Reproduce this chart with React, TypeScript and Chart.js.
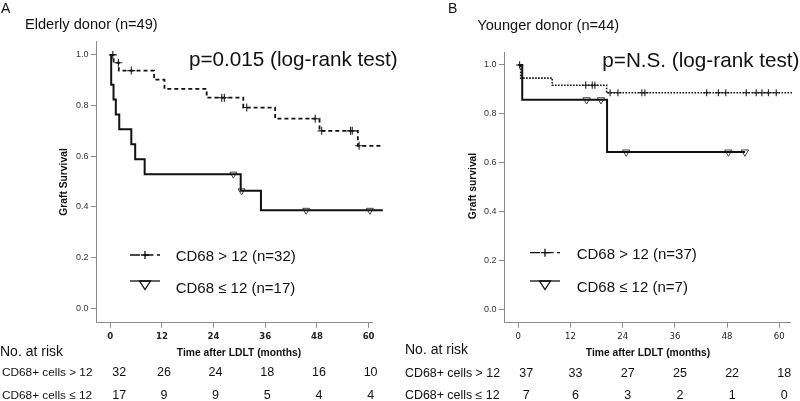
import React, { useEffect, useRef } from "react";
import { Chart, registerables } from "chart.js";

Chart.register(...registerables);

const FONT = "'Liberation Sans', Arial, Helvetica, sans-serif";
const NARROW = "'Liberation Sans Narrow', 'DejaVu Sans Condensed', 'Liberation Sans', sans-serif";

// ---------- shared ticks ----------
const monthTicks = [0, 12, 24, 36, 48, 60];
const survivalTicks = [0, 0.2, 0.4, 0.6, 0.8, 1.0];

// ---------- Panel A: Elderly donor ----------
const aHighEventMonths = [0, 0.8, 2.0, 10.2, 12.6, 22.4, 30.9, 38.3, 48.6, 57.5];
const aHighSurvival = [1, 0.969, 0.938, 0.902, 0.866, 0.831, 0.792, 0.748, 0.7, 0.641];
const aHighCensored = [0.6, 1.9, 4.9, 25.9, 26.5, 31.7, 47.6, 49.1, 55.8, 56.2, 57.8];
const aHighLastMonth = 62.8;

const aLowEventMonths = [0, 0.23, 0.77, 1.3, 2.1, 4.9, 5.8, 8.0, 30.3, 35.0];
const aLowSurvival = [1, 0.882, 0.824, 0.765, 0.706, 0.647, 0.588, 0.529, 0.463, 0.386];
const aLowCensored = [28.6, 30.5, 45.5, 60.3];
const aLowLastMonth = 63.3;

const aRiskHigh = [32, 26, 24, 18, 16, 10];
const aRiskLow = [17, 9, 9, 5, 4, 4];

// ---------- Panel B: Younger donor ----------
const bHighEventMonths = [0, 0.55, 7.8, 20.3];
const bHighSurvival = [1, 0.946, 0.917, 0.886];
const bHighCensored = [0.3, 15.5, 17.0, 17.6, 21.1, 22.9, 28.4, 29.1, 43.3, 46.0, 47.7, 52.4, 54.7, 56.0, 57.5, 59.3];
const bHighLastMonth = 62.9;

const bLowEventMonths = [0, 0.9, 20.4];
const bLowSurvival = [1, 0.857, 0.643];
const bLowCensored = [15.7, 19.0, 24.8, 48.3, 52.1];
const bLowLastMonth = 52.1;

const bRiskHigh = [37, 33, 27, 25, 22, 18];
const bRiskLow = [7, 6, 3, 2, 1, 0];

// ---------- helpers ----------
function stepPoints(times: number[], surv: number[], end: number) {
  const pts = [{ x: times[0], y: surv[0] }];
  for (let i = 1; i < times.length; i++) {
    pts.push({ x: times[i], y: surv[i - 1] });
    pts.push({ x: times[i], y: surv[i] });
  }
  pts.push({ x: end, y: surv[surv.length - 1] });
  return pts;
}
function survivalAt(times: number[], surv: number[], t: number) {
  let v = surv[0];
  for (let i = 0; i < times.length; i++) if (times[i] <= t) v = surv[i];
  return v;
}

type Panel = {
  letter: string;
  title: string;
  pText: string;
  yTitle: string;
  hiLabel: string;
  loLabel: string;
  hiTimes: number[]; hiSurv: number[]; hiCens: number[]; hiEnd: number;
  loTimes: number[]; loSurv: number[]; loCens: number[]; loEnd: number;
  riskHi: number[]; riskLo: number[];
  g: any;
};

const panels: Panel[] = [
  {
    letter: "A",
    title: "Elderly donor (n=49)",
    pText: "p=0.015 (log-rank test)",
    yTitle: "Graft Survival",
    hiLabel: "CD68 > 12 (n=32)",
    loLabel: "CD68 \u2264 12 (n=17)",
    hiTimes: aHighEventMonths, hiSurv: aHighSurvival, hiCens: aHighCensored, hiEnd: aHighLastMonth,
    loTimes: aLowEventMonths, loSurv: aLowSurvival, loCens: aLowCensored, loEnd: aLowLastMonth,
    riskHi: aRiskHigh, riskLo: aRiskLow,
    g: {
      axisX: 96, areaRight: 372.7, areaTop: 41, axisBottom: 322.7,
      xMin: -3.3, xMax: 60.95, yMin: -0.058, yMax: 1.055,
      hiDash: [4, 3], hiWidth: 1.8, loWidth: 2, crossR: 4, triR: 4,
      xTickFont: { family: NARROW, size: 9.5, weight: "bold" },
      letterX: 1, letterY: 13,
      titleX: 25, titleY: 29,
      pX: 189, pY: 66,
      legSymX: 130, legTextX: 175.7, leg1Y: 255, leg1Base: 261, leg2Y: 281, leg2Base: 292.7, legFont: 15,
      xTitleX: 239, xTitleY: 356,
      yTitleX: 64, yTitleY: 182,
      riskX: 0, riskHeadY: 356, riskRowX: 2, risk1Y: 376, risk2Y: 398.5, rowFont: 11.8,
      riskShift: 2, riskFirstShift: 9,
    },
  },
  {
    letter: "B",
    title: "Younger donor (n=44)",
    pText: "p=N.S. (log-rank test)",
    yTitle: "Graft survival",
    hiLabel: "CD68 > 12 (n=37)",
    loLabel: "CD68 \u2264 12 (n=7)",
    hiTimes: bHighEventMonths, hiSurv: bHighSurvival, hiCens: bHighCensored, hiEnd: bHighLastMonth,
    loTimes: bLowEventMonths, loSurv: bLowSurvival, loCens: bLowCensored, loEnd: bLowLastMonth,
    riskHi: bRiskHigh, riskLo: bRiskLow,
    g: {
      axisX: 104, areaRight: 390, areaTop: 52, axisBottom: 322.7,
      xMin: -3.29, xMax: 62.46, yMin: -0.056, yMax: 1.053,
      hiDash: [1.6, 1.4], hiWidth: 1.6, loWidth: 2, crossR: 3.6, triR: 4.2,
      xTickFont: { family: NARROW, size: 9.5, weight: "normal" },
      letterX: 48, letterY: 13,
      titleX: 77.3, titleY: 30,
      pX: 202.3, pY: 67,
      legSymX: 130, legTextX: 176.7, leg1Y: 252.7, leg1Base: 259.3, leg2Y: 281, leg2Base: 291.7, legFont: 15,
      xTitleX: 248, xTitleY: 356,
      yTitleX: 73, yTitleY: 186,
      riskX: 5, riskHeadY: 354, riskRowX: 5, risk1Y: 376.7, risk2Y: 399, rowFont: 12.4,
      riskShift: 5, riskFirstShift: 8,
    },
  },
];

function overlayPlugin(p: Panel) {
  const g = p.g;
  return {
    id: "overlay" + p.letter,
    afterDraw(chart: any) {
      const ctx = chart.ctx as CanvasRenderingContext2D;
      const xs = chart.scales.x;
      ctx.save();
      ctx.fillStyle = "#111";
      ctx.textBaseline = "alphabetic";
      ctx.textAlign = "left";

      ctx.font = `14px ${FONT}`;
      ctx.fillText(p.letter, g.letterX, g.letterY);
      ctx.font = `14.6px ${FONT}`;
      ctx.fillText(p.title, g.titleX, g.titleY);
      ctx.font = `20.7px ${FONT}`;
      ctx.fillText(p.pText, g.pX, g.pY);

      // legend
      ctx.strokeStyle = "#111";
      ctx.lineWidth = 1.3;
      const x0 = g.legSymX, x1 = g.legSymX + 30, xm = g.legSymX + 15;
      ctx.setLineDash([10, 3.5]);
      ctx.beginPath();
      ctx.moveTo(x0, g.leg1Y);
      ctx.lineTo(x1, g.leg1Y);
      ctx.stroke();
      ctx.setLineDash([]);
      ctx.beginPath();
      ctx.moveTo(xm - 4, g.leg1Y);
      ctx.lineTo(xm + 4, g.leg1Y);
      ctx.moveTo(xm, g.leg1Y - 4);
      ctx.lineTo(xm, g.leg1Y + 4);
      ctx.stroke();

      ctx.beginPath();
      ctx.moveTo(x0, g.leg2Y);
      ctx.lineTo(x1, g.leg2Y);
      ctx.stroke();
      ctx.beginPath();
      ctx.moveTo(xm - 5.5, g.leg2Y);
      ctx.lineTo(xm + 5.5, g.leg2Y);
      ctx.lineTo(xm, g.leg2Y + 8.5);
      ctx.closePath();
      ctx.stroke();

      ctx.font = `${g.legFont}px ${FONT}`;
      ctx.fillText(p.hiLabel, g.legTextX, g.leg1Base);
      ctx.fillText(p.loLabel, g.legTextX, g.leg2Base);

      // axis titles
      ctx.font = `bold 10.3px ${FONT}`;
      ctx.textAlign = "center";
      ctx.fillText("Time after LDLT (months)", g.xTitleX, g.xTitleY);
      ctx.save();
      ctx.translate(g.yTitleX, g.yTitleY);
      ctx.rotate(-Math.PI / 2);
      ctx.textBaseline = "middle";
      ctx.fillText(p.yTitle, 0, 0);
      ctx.restore();

      // risk table
      ctx.textAlign = "left";
      ctx.font = `14px ${FONT}`;
      ctx.fillText("No. at risk", g.riskX, g.riskHeadY);
      ctx.font = `${g.rowFont}px ${FONT}`;
      ctx.fillText("CD68+ cells > 12", g.riskRowX, g.risk1Y);
      ctx.fillText("CD68+ cells \u2264 12", g.riskRowX, g.risk2Y);
      ctx.textAlign = "center";
      ctx.font = `12.5px ${FONT}`;
      monthTicks.forEach((m, i) => {
        const px = xs.getPixelForValue(m) + (i === 0 ? g.riskFirstShift : g.riskShift);
        ctx.fillText(String(p.riskHi[i]), px, g.risk1Y);
        ctx.fillText(String(p.riskLo[i]), px, g.risk2Y);
      });
      ctx.restore();
    },
  };
}

function buildConfig(p: Panel): any {
  const g = p.g;
  const axisColor = "#8a8a8a";
  return {
    type: "scatter",
    data: {
      datasets: [
        {
          data: stepPoints(p.hiTimes, p.hiSurv, p.hiEnd),
          showLine: true,
          borderColor: "#111",
          borderWidth: g.hiWidth,
          borderDash: g.hiDash,
          pointRadius: 0,
          clip: false,
        },
        {
          data: stepPoints(p.loTimes, p.loSurv, p.loEnd),
          showLine: true,
          borderColor: "#111",
          borderWidth: g.loWidth,
          pointRadius: 0,
          clip: false,
        },
        {
          data: p.hiCens.map((t) => ({ x: t, y: survivalAt(p.hiTimes, p.hiSurv, t) })),
          showLine: false,
          pointStyle: "cross",
          pointRadius: g.crossR,
          pointBorderWidth: 1.1,
          pointBorderColor: "#222",
          clip: false,
        },
        {
          data: p.loCens.map((t) => ({ x: t, y: survivalAt(p.loTimes, p.loSurv, t) })),
          showLine: false,
          pointStyle: "triangle",
          rotation: 180,
          pointRotation: 180,
          pointRadius: g.triR,
          pointBorderWidth: 1,
          pointBorderColor: "#444",
          pointBackgroundColor: "rgba(255,255,255,0.6)",
          clip: false,
        },
      ],
    },
    options: {
      responsive: false,
      animation: false,
      events: [],
      layout: { padding: { left: 0, top: g.areaTop, right: 400 - g.areaRight, bottom: 0 } },
      plugins: { legend: { display: false }, tooltip: { enabled: false }, title: { display: false } },
      scales: {
        x: {
          type: "linear",
          min: g.xMin,
          max: g.xMax,
          afterFit: (s: any) => { s.height = 401 - g.axisBottom; },
          afterBuildTicks: (s: any) => { s.ticks = monthTicks.map((v) => ({ value: v })); },
          grid: { display: true, drawOnChartArea: false, drawTicks: true, tickLength: 5, color: axisColor, lineWidth: 1 },
          border: { display: true, color: axisColor, width: 1 },
          ticks: {
            font: g.xTickFont,
            color: "#222",
            padding: 3,
            maxRotation: 0,
            autoSkip: false,
            callback: (v: any) => String(v),
          },
          title: { display: false },
        },
        y: {
          type: "linear",
          min: g.yMin,
          max: g.yMax,
          afterFit: (s: any) => { s.width = g.axisX; },
          afterBuildTicks: (s: any) => { s.ticks = survivalTicks.map((v) => ({ value: v })); },
          grid: { display: true, drawOnChartArea: false, drawTicks: true, tickLength: 5, color: axisColor, lineWidth: 1 },
          border: { display: true, color: axisColor, width: 1 },
          ticks: {
            font: { family: FONT, size: 9 },
            color: "#333",
            padding: 2.5,
            autoSkip: false,
            callback: (v: any) => Number(v).toFixed(1),
          },
          title: { display: false },
        },
      },
    },
    plugins: [overlayPlugin(p)],
  };
}

function KMPanel({ panel }: { panel: Panel }) {
  const ref = useRef<HTMLCanvasElement | null>(null);
  useEffect(() => {
    if (!ref.current) return;
    const chart = new Chart(ref.current, buildConfig(panel));
    return () => chart.destroy();
  }, [panel]);
  return <canvas ref={ref} width={400} height={401} style={{ display: "block", width: 400, height: 401 }} />;
}

export default function App() {
  return (
    <div
      style={{
        position: "fixed",
        left: 0,
        top: 0,
        width: 800,
        height: 401,
        display: "flex",
        background: "#fff",
      }}
    >
      {panels.map((p) => (
        <KMPanel key={p.letter} panel={p} />
      ))}
    </div>
  );
}
